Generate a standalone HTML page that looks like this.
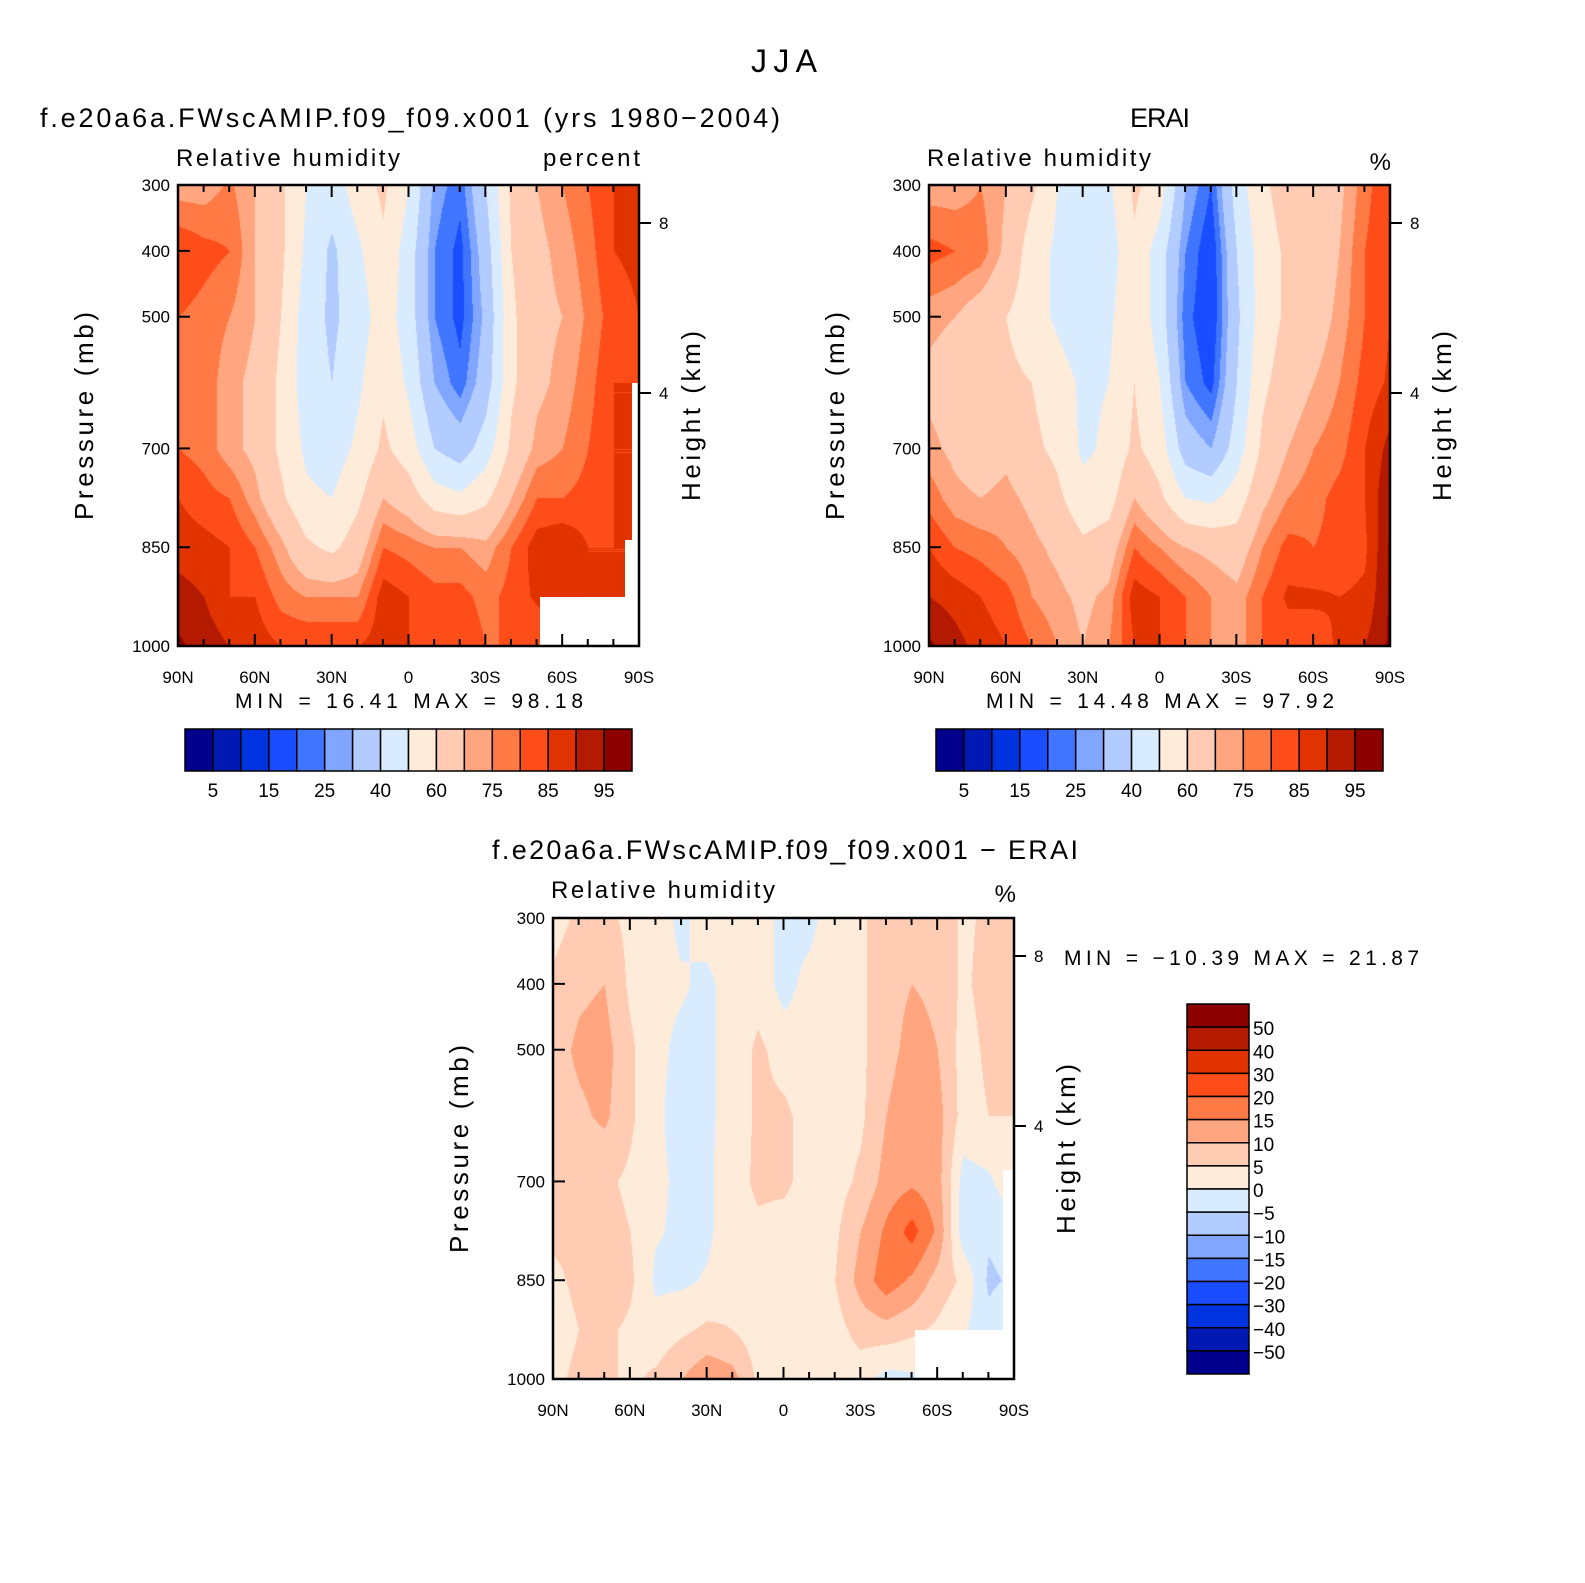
<!DOCTYPE html>
<html><head><meta charset="utf-8">
<style>
body{margin:0;background:#fff;}
#root{position:relative;width:1585px;height:1583px;background:#fff;font-family:"Liberation Sans",sans-serif;color:#000;overflow:hidden}
canvas{position:absolute}
</style></head><body>
<div id="root">
<svg id="svg" width="1585" height="1583" style="position:absolute;left:0;top:0"></svg>
</div>
<script>
// ---- data ----
const lats = [90,80,70,60,50,40,30,20,10,0,-10,-20,-30,-40,-50,-60,-70,-80,-90];
const plevs = [300,400,500,600,700,775,850,925,1000];
const levels = [5,10,15,20,25,30,40,50,60,70,75,80,85,90,95];
const diffLevels = [-50,-40,-30,-20,-15,-10,-5,0,5,10,15,20,30,40,50];
const rhTicks = ["5","15","25","40","60","75","85","95"];
const diffTicks = ["50","40","30","20","15","10","5","0","\u22125","\u221210","\u221215","\u221220","\u221230","\u221240","\u221250"];
const presTicks = [300,400,500,700,850,1000];
const latTicks = ["90N","60N","30N","0","30S","60S","90S"];
const modelRH = [
[72,85,80,80,80,85,88,92,96],
[72,82,78,78,78,82,87,90,93],
[76,80,75,72,72,80,85,85,90],
[70,70,70,68,68,72,80,85,88],
[62,62,60,58,58,62,72,78,85],
[50,48,45,45,48,52,62,75,85],
[45,38,38,40,45,50,58,75,85],
[55,48,45,48,52,58,65,75,85],
[62,58,55,58,62,70,80,88,88],
[50,45,45,48,55,65,78,85,85],
[28,25,25,30,40,55,75,82,85],
[22,18,18,22,35,52,75,82,85],
[40,35,32,35,45,58,72,78,80],
[62,60,58,58,62,70,80,82,80],
[70,68,68,68,72,80,88,86,80],
[75,72,70,72,75,80,90,88,85],
[80,78,76,78,80,82,85,85,85],
[85,85,83,85,85,85,85,85,85],
[88,86,85,85,85,85,85,85,85]];
const eraiRH = [
[72,82,72,68,72,78,85,90,96],
[72,80,70,65,68,72,80,88,92],
[75,78,65,62,65,70,78,85,88],
[70,68,60,62,68,72,75,82,85],
[62,55,55,60,62,68,72,75,80],
[50,48,48,55,58,62,68,72,75],
[45,40,42,48,48,54,62,68,70],
[48,45,48,50,52,56,65,72,75],
[62,58,58,60,62,70,80,88,85],
[55,45,45,50,55,62,75,85,85],
[30,25,22,25,35,50,70,80,80],
[20,15,15,18,30,48,68,75,75],
[45,40,38,40,45,55,65,72,72],
[58,55,55,58,62,68,75,80,80],
[65,62,62,65,70,75,82,86,82],
[62,62,65,70,75,78,80,86,82],
[68,70,72,75,78,82,82,85,86],
[78,80,80,82,85,85,84,86,90],
[85,85,85,86,92,95,96,96,96]];
const diffRH = [
[3,6,8,7,6,6,4,3,4],
[6,9,11,9,6,6,6,5,6],
[6,10,12,11,6,7,10,6,6],
[4,4,6,6,4,5,6,4,4],
[2,1,1,1,1,0.5,-1,2,6],
[-1,0.5,-1,-2,-1,-1,-1,4,10],
[2,-1,-1,-1,-1,-1,0.5,6,14],
[3,2,2,2,3,3,3,5,12],
[3,3,6,6,6,4,2,2,4],
[-2,-2,3,6,6,3,2,1,1],
[-2,2,2,3,3,2,2,2,2],
[4,4,4,3,3,4,5,3,2],
[4,4,4,4,6,10,12,7,2],
[8,8,8,10,12,16,18,8,-2],
[8,10,12,14,14,22,14,6,-1],
[9,9,10,12,12,14,8,4,0.5],
[4,4,3,3,-2,-3,4,0.5,0.5],
[6,7,6,5,-1,-4,-6,-3,0.5],
[5,6,6,5,4,-2,-4,0.5,0.5]];
const palette = ["#00008c","#0019b3","#0033e0","#1a4dff","#4075ff","#80a6ff","#b3ccff","#d9ebff","#ffebd9","#ffccb3","#ffa680","#ff7a45","#ff4d1a","#e03300","#b31a00","#8c0000"];

// ---- helpers ----
const svg=document.getElementById('svg');const root=document.getElementById('root');
const NS='http://www.w3.org/2000/svg';
function el(tag,attrs,parent){const e=document.createElementNS(NS,tag);for(const k in attrs)e.setAttribute(k,attrs[k]);(parent||svg).appendChild(e);return e;}
function txt(s,x,y,size,anchor,name,rot,len){const e=el('text',{x:x,y:y,'font-size':size,'text-anchor':anchor||'start','font-family':'Liberation Sans, sans-serif'});e.textContent=s;


if(len){e.setAttribute('textLength',len);e.setAttribute('lengthAdjust','spacing');}
if(rot)e.setAttribute('transform','rotate('+rot+' '+x+' '+y+')');return e;}
function hex(c){return [parseInt(c.substr(1,2),16),parseInt(c.substr(3,2),16),parseInt(c.substr(5,2),16)];}
const pal=palette.map(hex);
function colorIdx(v,lv){let i=0;while(i<lv.length&&v>=lv[i])i++;return i;}

function panel(px,py,data,lv,name){
  const W=461,H=461;
  const xs=lat=>px+(90-lat)/180*W;
  const ys=p=>py+(p-300)/700*H;
  const cv=document.createElement('canvas');cv.width=W;cv.height=H;cv.style.left=px+'px';cv.style.top=py+'px';
  
  
  root.insertBefore(cv,svg);
  const ctx=cv.getContext('2d');const img=ctx.createImageData(W,H);
  const latPix=lats.map(l=>xs(l)-px), pPix=plevs.map(p=>ys(p)-py);
  for(let j=0;j<H;j++){
    let b=0;while(b<pPix.length-2&&j>pPix[b+1])b++;
    const ty=Math.min(1,Math.max(0,(j-pPix[b])/(pPix[b+1]-pPix[b])));
    for(let i=0;i<W;i++){
      let a=0;while(a<latPix.length-2&&i>latPix[a+1])a++;
      const tx=Math.min(1,Math.max(0,(i-latPix[a])/(latPix[a+1]-latPix[a])));
      const v=(data[a][b]*(1-tx)+data[a+1][b]*tx)*(1-ty)+(data[a][b+1]*(1-tx)+data[a+1][b+1]*tx)*ty;
      const c=pal[colorIdx(v,lv)];const o=(j*W+i)*4;
      img.data[o]=c[0];img.data[o+1]=c[1];img.data[o+2]=c[2];img.data[o+3]=255;
    }
  }
  ctx.putImageData(img,0,0);
  return {xs,ys,W,H};
}
function axes(px,py,name,ax){
  const g=el('g',{});
  
  
  el('rect',{x:px,y:py,width:461,height:461,fill:'none',stroke:'#000','stroke-width':2.5},g);
  for(let l=90;l>=-90;l-=10){const x=ax.xs(l);const major=(l%30===0);
    el('line',{x1:x,y1:py,x2:x,y2:py+(major?12:7),stroke:'#000','stroke-width':2},g);
    el('line',{x1:x,y1:py+461,x2:x,y2:py+461-(major?12:7),stroke:'#000','stroke-width':2},g);}
  latTicks.forEach((s,i)=>txt(s,ax.xs(90-i*30),py+461+37,17,'middle',name+'-lat-tick'));
  presTicks.forEach(p=>{const y=ax.ys(p);el('line',{x1:px,y1:y,x2:px+12,y2:y,stroke:'#000','stroke-width':2},g);
    txt(String(p),px-8,y+6,17,'end',name+'-pressure-tick');});
  [[8,py+38],[4,py+208]].forEach(h=>{el('line',{x1:px+461,y1:h[1],x2:px+473,y2:h[1],stroke:'#000','stroke-width':2},g);
    txt(String(h[0]),px+481,h[1]+6,17,'start',name+'-height-tick');});
  txt('Pressure (mb)',px-85,py+231,26,'middle',name+'-y-axis-title',-90,208);
  txt('Height (km)',px+522,py+231,26,'middle',name+'-right-axis-title',-90,170);
}
function mask(x,y,w,h,name){const r=el('rect',{x:x,y:y,width:w,height:h,fill:'#fff'});
  
  }

const a1=panel(178,185,modelRH,levels,'model');
mask(540,597,99,49,'model-topography-mask');mask(625,540,14,60,'model-topography-mask');mask(632,383,7,160,'model-topography-mask');
axes(178,185,'model',a1);
const a2=panel(929,185,eraiRH,levels,'erai');
axes(929,185,'erai',a2);
const a3=panel(553,918,diffRH,diffLevels,'diff');
mask(915,1330,99,49,'diff-topography-mask');mask(1003,1170,11,160,'diff-topography-mask');
axes(553,918,'diff',a3);

txt('JJA',784,72,32,'middle','main-title',0,66);
txt('f.e20a6a.FWscAMIP.f09_f09.x001 (yrs 1980\u22122004)',40,127,27,'start','model-title',0,740);
txt('ERAI',1160,127,27,'middle','erai-title',0,60);
txt('f.e20a6a.FWscAMIP.f09_f09.x001 \u2212 ERAI',785,859,27,'middle','diff-title',0,586);
txt('Relative humidity',176,166,24,'start','model-subtitle-left',0,224);
txt('percent',640,166,24,'end','model-units',0,97);
txt('Relative humidity',927,166,24,'start','erai-subtitle-left',0,224);
txt('%',1391,170,24,'end','erai-units');
txt('Relative humidity',551,898,24,'start','diff-subtitle-left',0,224);
txt('%',1016,902,24,'end','diff-units');
txt('MIN =   16.41   MAX =   98.18',235,708,21,'start','model-minmax',0,348);
txt('MIN =   14.48   MAX =   97.92',986,708,21,'start','erai-minmax',0,348);
txt('MIN = \u221210.39   MAX =   21.87',1064,965,21,'start','diff-minmax',0,355);

function hbar(x0,y0,name){const w=447/16;
  palette.forEach((c,i)=>{const r=el('rect',{x:x0+i*w,y:y0,width:w,height:42,fill:c,stroke:'#000','stroke-width':1.5});
    
    });
  rhTicks.forEach((s,k)=>txt(s,x0+(2*k+1)*w,y0+68,19,'middle',name+'-label'));}
hbar(185,729,'model-colorbar');hbar(936,729,'erai-colorbar');
(function(){const x0=1187,y0=1004,h=370/16;
  for(let i=0;i<16;i++){const r=el('rect',{x:x0,y:y0+i*h,width:62,height:h,fill:palette[15-i],stroke:'#000','stroke-width':1.5});
    
    }
  diffTicks.forEach((s,k)=>txt(s,x0+66,y0+(k+1)*h+8,19,'start','diff-colorbar-label'));})();
</script>
</body></html>
